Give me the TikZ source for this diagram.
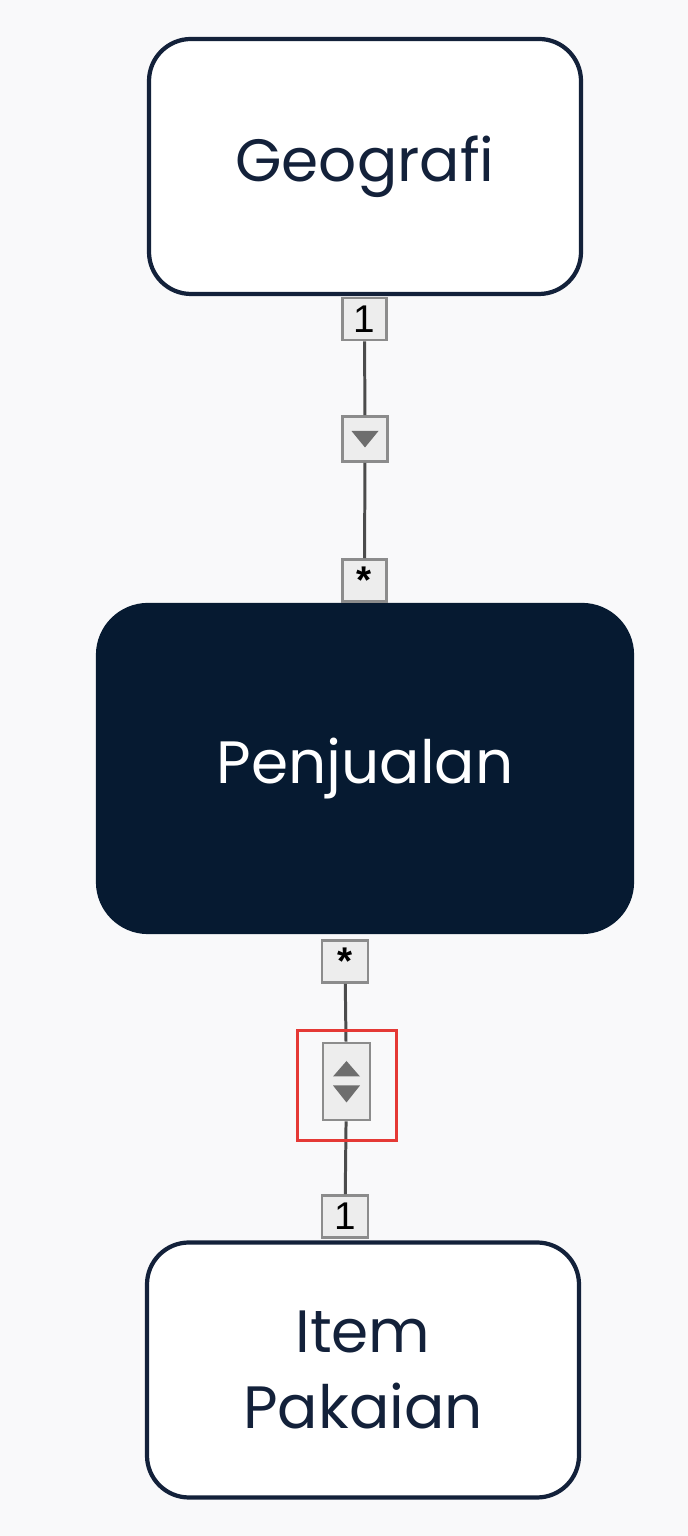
\documentclass[tikz,border=0pt]{standalone}
\usepackage{fontspec}
\setmainfont{Poppins}
\newfontfamily\labelfont{Liberation Sans}
\definecolor{navy}{HTML}{061A31}
\definecolor{inknavy}{HTML}{13213A}
\definecolor{tagfill}{HTML}{EDEDED}
\definecolor{tagline}{HTML}{8C8C8C}
\definecolor{trigray}{HTML}{6E6E6E}
\definecolor{framered}{HTML}{E53935}
\definecolor{pagebg}{HTML}{F9F9FA}

\begin{document}
\begin{tikzpicture}[
        entity/.style={draw=inknavy, line width=1.2pt, fill=white, rounded corners=0.42cm,
            minimum width=4.32cm, minimum height=2.55cm, align=center, text=inknavy,
            font=\fontsize{17}{21.5}\selectfont},
        fact/.style={entity, draw=navy, fill=navy, text=white, rounded corners=0.5cm,
            minimum width=5.34cm, minimum height=3.27cm},
        tag/.style={draw=tagline, fill=tagfill, line width=0.75pt, inner sep=0pt,
            minimum width=0.44cm, minimum height=0.42cm, font=\labelfont\fontsize{11}{11}\selectfont},
        link/.style={draw=black!70, line width=0.85pt},
        tri/.style={fill=trigray}
    ]
        \useasboundingbox[fill=pagebg] (0, 0) rectangle (6.88, 15.36);

        % tables
        \node[entity] (geo) at (3.65, 13.695) {Geografi};
        \node[fact] (sale) at (3.65, 7.675) {Penjualan};
        \node[entity] (item) at (3.63, 1.66) {Item\\Pakaian};

        % top relationship
        \node[tag] (one1) at (3.645, 12.17) {1};
        \node[tag, minimum width=0.45cm, minimum height=0.45cm] (arr1) at (3.65, 10.97) {};
        \node[tag] (many1) at (3.645, 9.555) {\textbf{*}};
        \draw[link] (one1) -- (arr1) -- (many1);
        \fill[tri] ([xshift=-1.35mm, yshift=0.8mm]arr1.center) -- ([xshift=1.35mm, yshift=0.8mm]arr1.center)
            -- ([yshift=-0.85mm]arr1.center) -- cycle;

        % bottom relationship
        \node[tag, minimum width=0.46cm] (many2) at (3.45, 5.745) {\textbf{*}};
        \node[tag, minimum width=0.47cm, minimum height=0.77cm] (arr2) at (3.465, 4.545) {};
        \node[tag, minimum width=0.46cm] (one2) at (3.45, 3.195) {1};
        \draw[link] (many2) -- (arr2) -- (one2);
        \fill[tri] ([xshift=-1.35mm, yshift=0.5mm]arr2.center) -- ([xshift=1.35mm, yshift=0.5mm]arr2.center)
            -- ([yshift=2.05mm]arr2.center) -- cycle;
        \fill[tri] ([xshift=-1.35mm, yshift=-0.4mm]arr2.center) -- ([xshift=1.35mm, yshift=-0.4mm]arr2.center)
            -- ([yshift=-2.1mm]arr2.center) -- cycle;
        \node[draw=framered, line width=0.8pt, minimum width=0.99cm, minimum height=1.1cm, inner sep=0pt]
            (focus) at (3.47, 4.505) {};
    \end{tikzpicture}
\end{document}
